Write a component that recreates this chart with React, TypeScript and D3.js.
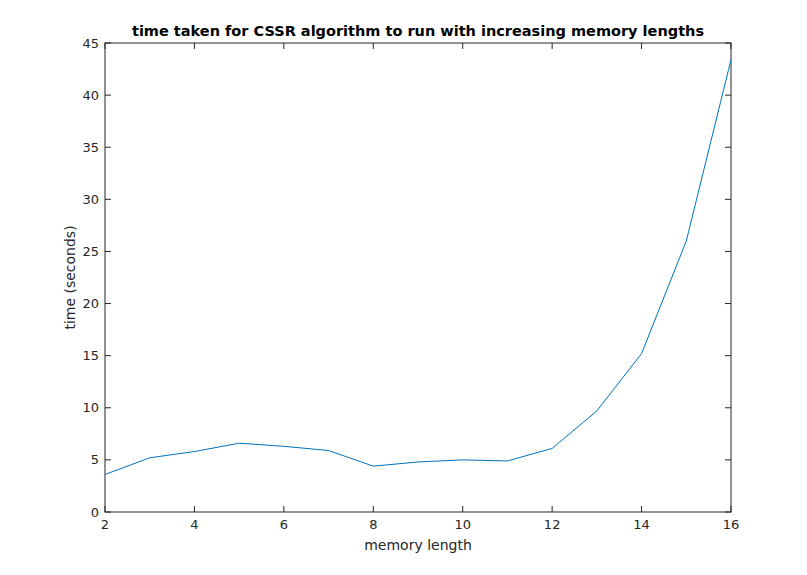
import * as d3 from "d3";
import { useEffect, useRef } from "react";

const memoryLengths = [2, 3, 4, 5, 6, 7, 8, 9, 10, 11, 12, 13, 14, 15, 16];
const timeSeconds = [3.6, 5.2, 5.8, 6.6, 6.3, 5.9, 4.4, 4.8, 5.0, 4.9, 6.1, 9.7, 15.2, 26.0, 43.4];
const xTicks = [2, 4, 6, 8, 10, 12, 14, 16];
const yTicks = [0, 5, 10, 15, 20, 25, 30, 35, 40, 45];

const App = () => {
  const svgRef = useRef<SVGSVGElement>(null);

  useEffect(() => {
    const svg = d3.select(svgRef.current);
    svg.selectAll("*").remove();

    const W = 807, H = 575;
    const left = 105, right = 731, top = 43, bottom = 512;
    const font = "DejaVu Sans, sans-serif";

    svg.attr("width", W).attr("height", H);
    svg.append("rect").attr("width", W).attr("height", H).attr("fill", "#fff");

    const x = d3.scaleLinear().domain([2, 16]).range([left, right]);
    const y = d3.scaleLinear().domain([0, 45]).range([bottom, top]);

    const g = svg.append("g");

    // ticks (inward, MATLAB style) on all four sides
    xTicks.forEach((t) => {
      g.append("line").attr("x1", x(t)).attr("x2", x(t)).attr("y1", bottom).attr("y2", bottom - 6).attr("stroke", "#262626");
      g.append("line").attr("x1", x(t)).attr("x2", x(t)).attr("y1", top).attr("y2", top + 6).attr("stroke", "#262626");
      g.append("text").attr("x", x(t)).attr("y", bottom + 17).attr("text-anchor", "middle")
        .style("font-family", font).style("font-size", "13px").attr("fill", "#262626").text(t);
    });
    yTicks.forEach((t) => {
      g.append("line").attr("x1", left).attr("x2", left + 6).attr("y1", y(t)).attr("y2", y(t)).attr("stroke", "#262626");
      g.append("line").attr("x1", right).attr("x2", right - 6).attr("y1", y(t)).attr("y2", y(t)).attr("stroke", "#262626");
      g.append("text").attr("x", left - 6).attr("y", y(t) + 4.5).attr("text-anchor", "end")
        .style("font-family", font).style("font-size", "13px").attr("fill", "#262626").text(t);
    });

    g.append("rect").attr("x", left).attr("y", top).attr("width", right - left).attr("height", bottom - top)
      .attr("fill", "none").attr("stroke", "#262626").attr("stroke-width", 1);

    const line = d3.line<number>().x((_, i) => x(memoryLengths[i])).y((d) => y(d));
    g.append("path").datum(timeSeconds).attr("d", line).attr("fill", "none")
      .attr("stroke", "#0072bd").attr("stroke-width", 1);

    g.append("text").attr("x", (left + right) / 2).attr("y", bottom + 38).attr("text-anchor", "middle")
      .style("font-family", font).style("font-size", "14px").attr("fill", "#262626").text("memory length");

    g.append("text").attr("transform", `translate(${left - 30},${(top + bottom) / 2}) rotate(-90)`)
      .attr("text-anchor", "middle").style("font-family", font).style("font-size", "14px").attr("fill", "#262626")
      .text("time (seconds)");

    g.append("text").attr("x", (left + right) / 2).attr("y", top - 7).attr("text-anchor", "middle")
      .style("font-family", font).style("font-size", "14.5px").style("font-weight", "bold").attr("fill", "#000")
      .text("time taken for CSSR algorithm to run with increasing memory lengths");
  }, []);

  return <svg ref={svgRef} style={{ position: "absolute", left: 0, top: 0 }}></svg>;
};

export default App;
